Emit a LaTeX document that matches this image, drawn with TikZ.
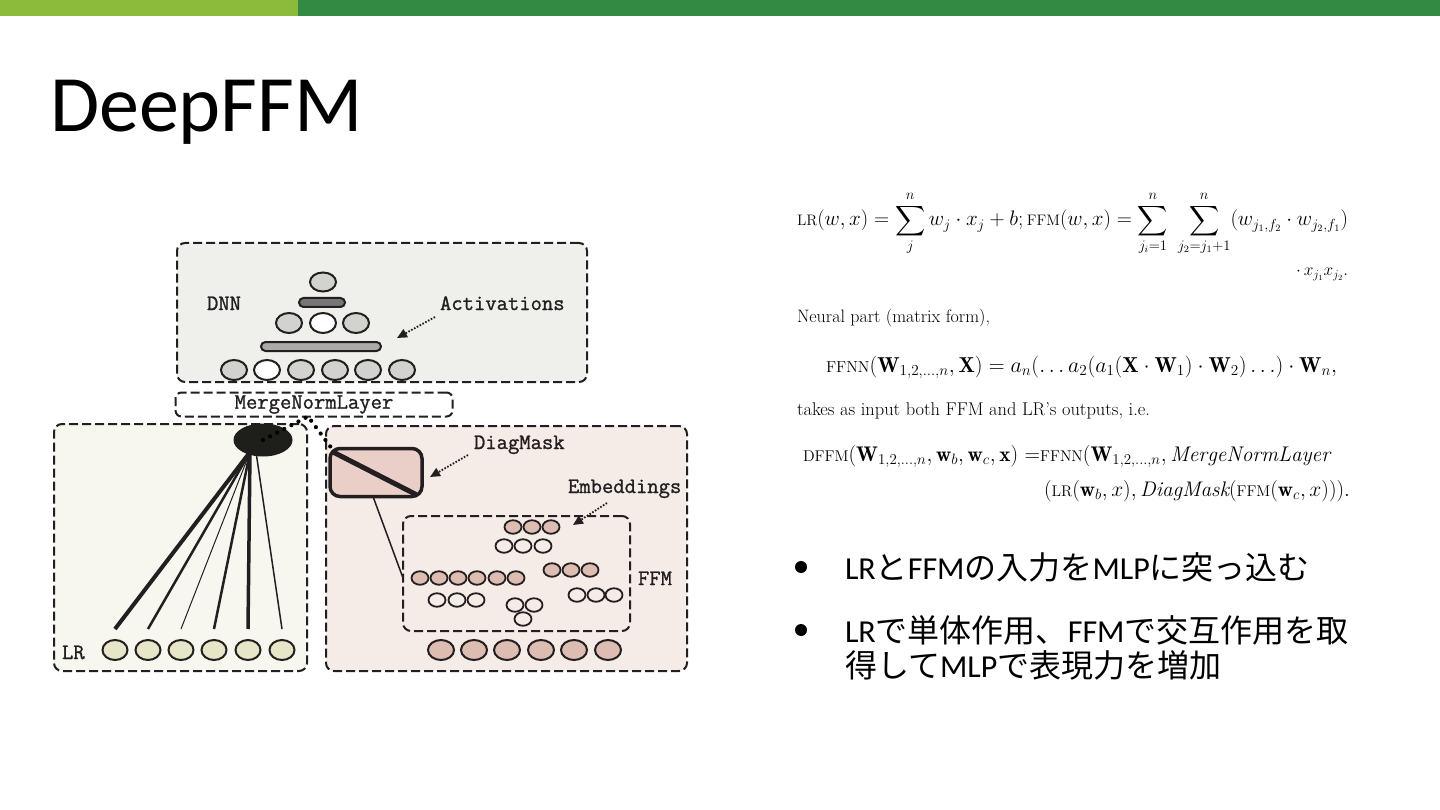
\documentclass[tikz,border=0pt]{standalone}
\usepackage{amsmath}
\usepackage{fontspec}
\usetikzlibrary{arrows.meta,shapes.geometric}
\newfontfamily\lat{Carlito}
\newfontfamily\jp{Noto Sans CJK JP}
\newfontfamily\dmono[FakeBold=1.2]{Latin Modern Mono}
\newcommand\sca[1]{\mbox{\fontsize{12.5pt}{14pt}\selectfont #1}}
\definecolor{lgreen}{HTML}{8ABB3A}
\definecolor{dgreen}{HTML}{338B43}
\definecolor{ink}{HTML}{231F20}
\definecolor{dnnbg}{HTML}{EFEFEC}
\definecolor{lrbg}{HTML}{F7F6EF}
\definecolor{ffmbg}{HTML}{F5EBE7}
\definecolor{grayell}{HTML}{D2D2CE}
\definecolor{darkbar}{HTML}{777777}
\definecolor{longbar}{HTML}{AAAAA8}
\definecolor{lrell}{HTML}{E8E6C8}
\definecolor{pink}{HTML}{DDBCB1}
\definecolor{dmfill}{HTML}{E9CFC8}
\definecolor{blk}{HTML}{1E1E1A}
\begin{document}
\begin{tikzpicture}[x=1pt,y=-1pt,
  every node/.style={inner sep=0pt,outer sep=0pt},
  lbl/.style={font=\fontsize{22pt}{24pt}\selectfont\dmono,text=ink,anchor=base west},
  dbox/.style={draw=ink,line width=2pt,dash pattern=on 9pt off 4pt,rounded corners=8pt},
  ell/.style={ellipse,draw=ink,line width=2pt,minimum width=26pt,minimum height=20pt},
  gell/.style={ell,fill=grayell},
  well/.style={ell,fill=white},
  lell/.style={ell,fill=lrell,minimum width=25pt},
  fell/.style={ell,fill=pink},
  sm/.style={ellipse,draw=ink,line width=1.8pt,minimum width=17pt,minimum height=13.5pt,fill=ffmbg},
  pk/.style={sm,fill=pink},
  darr/.style={draw=ink,line width=1.8pt,dash pattern=on 1.6pt off 1.6pt,-{Triangle[length=10pt,width=9pt]}},
  dotc/.style={draw=black,line width=4.2pt,dash pattern=on 0pt off 8pt,line cap=round},
  mtext/.style={anchor=base west,font=\fontsize{17pt}{20pt}\selectfont},
  bul/.style={circle,fill=black,minimum size=12pt},
  btext/.style={anchor=base west,font=\fontsize{32pt}{36pt}\selectfont}
]
\useasboundingbox (0,0) rectangle (1440,810);
\fill[white] (0,0) rectangle (1440,810);
% top bars
\fill[lgreen] (0,0) rectangle (298,16);
\fill[dgreen] (298,0) rectangle (1440,16);
% title
\node[anchor=base west,font=\fontsize{80pt}{90pt}\selectfont\lat] (title) at (50,132) {DeepFFM};

% ---------- diagram boxes ----------
\node[dbox,fill=dnnbg,minimum width=410pt,minimum height=139pt] (dnn) at (382,312.5) {};
\node[dbox,fill=white,rounded corners=6pt,minimum width=277pt,minimum height=24pt,
      font=\fontsize{22pt}{24pt}\selectfont\dmono,text=ink] (merge) at (314,404.5) {MergeNormLayer};
\node[dbox,fill=lrbg,minimum width=253pt,minimum height=247pt] (lrbox) at (180.5,547.5) {};
\node[dbox,fill=ffmbg,minimum width=361pt,minimum height=245pt] (ffmbox) at (506.5,548.5) {};
\node[dbox,minimum width=227pt,minimum height=115pt] (ffin) at (516.5,573.5) {};

% ---------- DNN contents ----------
\node[gell,minimum width=26pt,minimum height=19pt] (d0) at (323,282) {};
\node[draw=ink,line width=2pt,fill=darkbar,rounded corners=4.5pt,minimum width=46pt,minimum height=9pt] (bar1) at (322,302.5) {};
\node[gell] (d21) at (289,323) {};
\node[well] (d22) at (323,323) {};
\node[gell] (d23) at (356,323) {};
\node[draw=ink,line width=2pt,fill=longbar,rounded corners=4.5pt,minimum width=120pt,minimum height=9pt] (bar2) at (321,346.5) {};
\node[gell] (d31) at (234,370) {};
\node[well] (d32) at (267,370) {};
\node[gell] (d33) at (301,370) {};
\node[gell] (d34) at (335,370) {};
\node[gell] (d35) at (368,370) {};
\node[gell] (d36) at (402,370) {};
\node[lbl] (tdnn) at (207,310) {DNN};
\node[lbl] (tact) at (440,310) {Activations};
\coordinate (a1s) at (435,317);
\coordinate (a1e) at (397,338);
\draw[darr] (a1s) -- (a1e);

% ---------- LR contents ----------
\node[lell] (lr1) at (115,650) {};
\node[lell] (lr2) at (148,650) {};
\node[lell] (lr3) at (181,650) {};
\node[lell] (lr4) at (214,650) {};
\node[lell] (lr5) at (248,650) {};
\node[lell] (lr6) at (282,650) {};
\node[lbl] (tlr) at (62,659) {LR};
\coordinate (hc) at (250,452);
\draw[ink,line width=4pt]   (hc) -- ([yshift=11pt]lr1.north);
\draw[ink,line width=2.5pt] (hc) -- ([yshift=11pt]lr2.north);
\draw[ink,line width=1pt]   (hc) -- ([yshift=11pt]lr3.north);
\draw[ink,line width=2.5pt] (hc) -- ([yshift=11pt]lr4.north);
\draw[ink,line width=3.5pt] (hc) -- ([yshift=11pt]lr5.north);
\draw[ink,line width=1.5pt] ([xshift=6pt]hc) -- ([yshift=11pt]lr6.north);
\node[ellipse,fill=blk,minimum width=59pt,minimum height=33pt] (hub) at (263,440) {};

% ---------- FFM contents ----------
\node[draw=ink,line width=3.5pt,fill=dmfill,rounded corners=10pt,minimum width=92pt,minimum height=48pt] (dm) at (376,472.5) {};
\draw[ink,line width=5pt] ([shift={(4pt,-4pt)}]dm.north west) -- ([shift={(-6pt,2pt)}]dm.south east);
\draw[ink,line width=1.5pt] ([xshift=-3pt]dm.south) -- ([yshift=-4.5pt]ffin.west);
\node[lbl] (tdm) at (474,449) {DiagMask};
\node[lbl] (temb) at (568,493) {Embeddings};
\node[lbl] (tffm) at (638,585) {FFM};
\coordinate (a2s) at (468,455);
\coordinate (a2e) at (430,477);
\draw[darr] (a2s) -- (a2e);
\coordinate (a3s) at (607,503);
\coordinate (a3e) at (573,525);
\draw[darr] (a3s) -- (a3e);
% small circles
\node[pk] (ca1) at (513,527) {};
\node[pk] (ca2) at (532,527) {};
\node[pk] (ca3) at (551,527) {};
\node[sm] (cb1) at (504,546) {};
\node[sm] (cb2) at (523,546) {};
\node[sm] (cb3) at (543,546) {};
\node[pk] (cc1) at (420,578) {};
\node[pk] (cc2) at (439,578) {};
\node[pk] (cc3) at (458,578) {};
\node[pk] (cc4) at (477,578) {};
\node[pk] (cc5) at (497,578) {};
\node[pk] (cc6) at (516,578) {};
\node[sm] (cd1) at (437,600) {};
\node[sm] (cd2) at (457,600) {};
\node[sm] (cd3) at (476,600) {};
\node[pk] (ce1) at (552,570) {};
\node[pk] (ce2) at (571,570) {};
\node[pk] (ce3) at (590,570) {};
\node[sm] (cf1) at (577,595) {};
\node[sm] (cf2) at (596,595) {};
\node[sm] (cf3) at (614,595) {};
\node[sm] (ct1) at (515,605) {};
\node[sm] (ct2) at (534,605) {};
\node[sm] (ct3) at (523,619) {};
\node[fell] (fb1) at (441,650) {};
\node[fell] (fb2) at (474,650) {};
\node[fell] (fb3) at (507,650) {};
\node[fell] (fb4) at (541,650) {};
\node[fell] (fb5) at (574,650) {};
\node[fell] (fb6) at (608,650) {};

% dotted merge connector
\draw[dotc] (hub.center) -- ([xshift=-6pt]merge.south) -- ([shift={(4pt,-3pt)}]dm.north west);

% ---------- formulas ----------
\node[mtext] (f1) at (797,226) {\resizebox{551pt}{!}{$\displaystyle \sca{LR}(w,x) = \sum_{j}^{n} w_j\cdot x_j + b; \sca{FFM}(w,x) = \sum_{j_i=1}^{n}\ \sum_{j_2=j_1+1}^{n}(w_{j_1,f_2}\cdot w_{j_2,f_1})$}};
\node[mtext,anchor=base east] (f1b) at (1348,276) {$\cdot\, x_{j_1}x_{j_2}.$};
\node[mtext] (t1) at (797,322) {\resizebox{193pt}{!}{Neural part (matrix form),}};
\node[mtext] (f2) at (826,372) {\resizebox{511pt}{!}{$\sca{FFNN}(\mathbf{W}_{1,2,\ldots,n},\mathbf{X}) = a_n(\ldots a_2(a_1(\mathbf{X}\cdot\mathbf{W}_1)\cdot\mathbf{W}_2)\ldots)\cdot\mathbf{W}_n,$}};
\node[mtext] (t2) at (797,415) {\resizebox{353pt}{!}{takes as input both FFM and LR’s outputs, i.e.}};
\node[mtext] (f3) at (803,461) {\resizebox{527pt}{!}{$\sca{DFFM}(\mathbf{W}_{1,2,\ldots,n},\mathbf{w}_b,\mathbf{w}_c,\mathbf{x})\ {=}\sca{FFNN}(\mathbf{W}_{1,2,\ldots,n},\mathit{MergeNormLayer}$}};
\node[mtext] (f3b) at (1044,496) {\resizebox{306pt}{!}{$(\sca{LR}(\mathbf{w}_b,x),\mathit{DiagMask}(\sca{FFM}(\mathbf{w}_c,x))).$}};

% ---------- bullets ----------
\node[bul] (bd1) at (801,567) {};
\node[btext] (b1) at (845,579) {{\lat LR}{\jp と}{\lat FFM}{\jp の入力を}{\lat MLP}{\jp に突っ込む}};
\node[bul] (bd2) at (801,630) {};
\node[btext] (b2) at (845,642) {{\lat LR}{\jp で単体作用、}{\lat FFM}{\jp で交互作用を取}};
\node[btext] (b3) at (845,677) {{\jp 得して}{\lat MLP}{\jp で表現力を増加}};
\end{tikzpicture}
\end{document}
